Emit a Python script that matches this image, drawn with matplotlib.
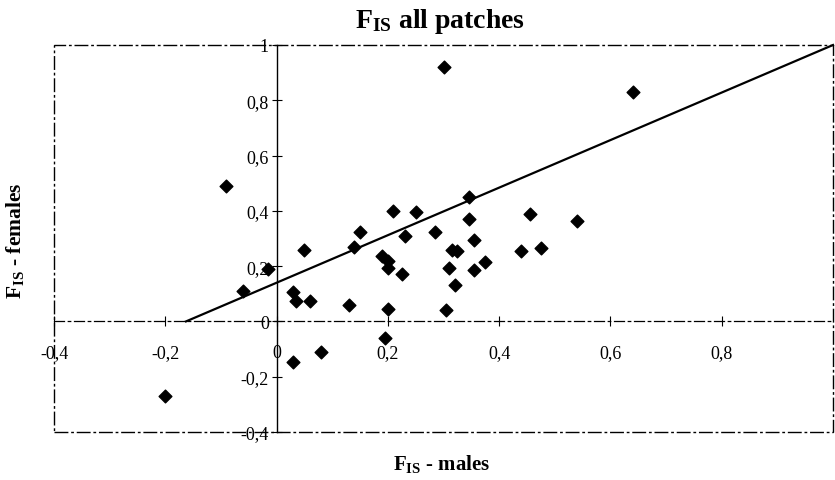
import matplotlib
matplotlib.use("Agg")
import matplotlib.pyplot as plt
from matplotlib.patches import Rectangle

plt.rcParams["font.family"] = ["Liberation Serif", "DejaVu Serif"]
plt.rcParams["mathtext.fontset"] = "custom"
plt.rcParams["mathtext.rm"] = "Liberation Serif"
plt.rcParams["mathtext.bf"] = "Liberation Serif:bold"

# F_IS per patch: males (x) vs females (y)
fis_males = [0.30, 0.64, -0.09, -0.015, -0.06, -0.20, 0.05, 0.14, 0.15, 0.21,
             0.25, 0.23, 0.19, 0.20, 0.20, 0.225, 0.03, 0.035, 0.06, 0.13,
             0.20, 0.195, 0.08, 0.03, 0.345, 0.345, 0.285, 0.355, 0.315, 0.325,
             0.31, 0.355, 0.375, 0.32, 0.305, 0.455, 0.44, 0.475, 0.54]
fis_females = [0.92, 0.83, 0.49, 0.19, 0.11, -0.27, 0.26, 0.27, 0.325, 0.40,
               0.395, 0.31, 0.235, 0.22, 0.195, 0.17, 0.105, 0.075, 0.075, 0.06,
               0.045, -0.06, -0.11, -0.145, 0.45, 0.37, 0.325, 0.295, 0.26, 0.255,
               0.195, 0.185, 0.215, 0.13, 0.04, 0.39, 0.255, 0.267, 0.365]

# linear trend (intercept, slope)
trend_intercept = 0.14
trend_slope = 0.86

x_ticks = [-0.4, -0.2, 0.0, 0.2, 0.4, 0.6, 0.8]
y_ticks = [-0.4, -0.2, 0.0, 0.2, 0.4, 0.6, 0.8, 1.0]


def comma(v):
    s = f"{v:.1f}".rstrip("0").rstrip(".") if v != 0 else "0"
    return s.replace(".", ",")


fig = plt.figure(figsize=(8.35, 4.81), dpi=100)
ax = fig.add_axes([54 / 835, 1 - 433 / 481, (833 - 54) / 835, (433 - 46) / 481])
ax.set_xlim(-0.4, 1.0)
ax.set_ylim(-0.4, 1.0)

# axes crossing at the origin
ax.spines["left"].set_position(("data", 0))
ax.spines["bottom"].set_position(("data", 0))
ax.spines["right"].set_visible(False)
ax.spines["top"].set_visible(False)
ax.spines["left"].set_linewidth(1.0)
ax.spines["bottom"].set_linewidth(0.9)
ax.spines["bottom"].set_linestyle((0, (8, 3, 2, 3)))

# dashed plot-area frame
ax.add_patch(Rectangle((0, 0), 1, 1, transform=ax.transAxes, fill=False,
                       edgecolor="black", linewidth=1.0,
                       linestyle=(0, (10, 2, 2, 2)), clip_on=False, zorder=1))

ax.set_xticks(x_ticks)
ax.set_yticks(y_ticks)
ax.set_xticklabels([comma(v) for v in x_ticks])
ax.set_yticklabels([comma(v) for v in y_ticks])
ax.tick_params(axis="x", direction="inout", length=7, width=0.8,
               pad=13, labelsize=13)
ax.tick_params(axis="y", direction="inout", length=7, width=0.8,
               pad=2, labelsize=13)

ax.scatter(fis_males, fis_females, marker="D", s=42, color="black",
           zorder=3, clip_on=False)

x0 = -trend_intercept / trend_slope
x1 = 1.0
ax.plot([x0, x1], [trend_intercept + trend_slope * x0,
                   trend_intercept + trend_slope * x1],
        color="black", linewidth=1.6, zorder=2, clip_on=False)

fig.text(440 / 835, 1 - 21 / 481, r"$\mathbf{F_{IS}}$ all patches",
         ha="center", va="center", fontsize=20, fontweight="bold")
fig.text(442 / 835, 1 - 464 / 481, r"$\mathbf{F_{IS}}$ - males",
         ha="center", va="center", fontsize=15, fontweight="bold")
fig.text(15 / 835, 1 - 241 / 481, r"$\mathbf{F_{IS}}$ - females",
         ha="center", va="center", rotation=90, fontsize=15.5,
         fontweight="bold")

fig.savefig("out.png", dpi=100)
